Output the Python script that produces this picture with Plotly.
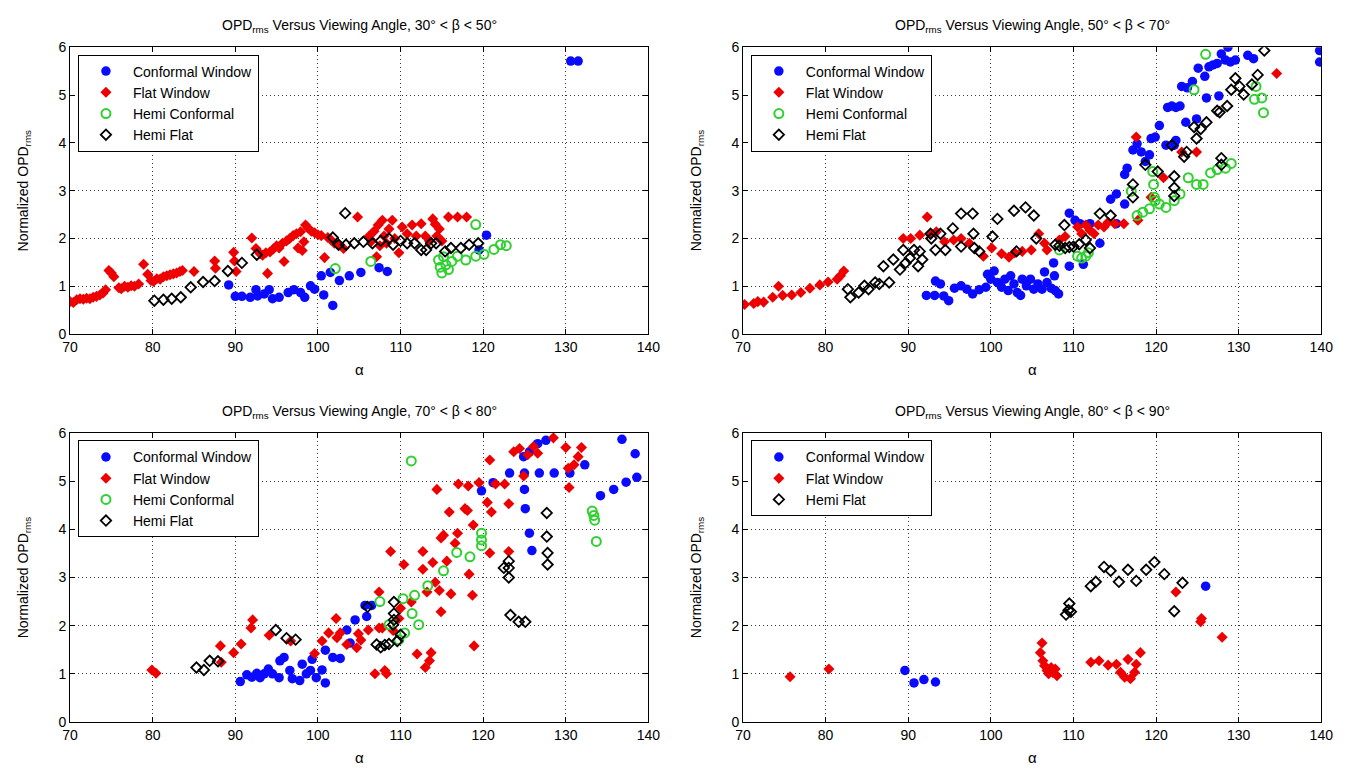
import plotly.graph_objects as go

# ---------------------------------------------------------------------------
# Normalized OPD_rms versus viewing angle alpha, one list of (alpha, OPD) per
# window type and elevation band beta.
# ---------------------------------------------------------------------------

# 30° < beta < 50°
conformal_30_50 = [(89.2, 1.03), (90.0, 0.79), (90.8, 0.79), (91.8, 0.77), (92.5, 0.93), (92.7, 0.80),
                   (93.5, 0.84), (94.1, 0.93), (94.5, 0.74), (95.3, 0.77), (96.4, 0.87), (97.1, 0.93),
                   (97.9, 0.87), (98.4, 0.77), (99.1, 1.01), (99.6, 0.94), (100.4, 1.22), (100.7, 0.82),
                   (101.5, 1.29), (101.8, 0.60), (102.6, 1.12), (103.8, 1.22), (105.2, 1.29), (107.4, 1.39),
                   (108.4, 1.31), (119.5, 1.76), (120.4, 2.07), (130.6, 5.71), (131.5, 5.71)]
flat_30_50 = [(70.0, 0.68), (70.4, 0.66), (70.8, 0.72), (71.2, 0.74), (71.6, 0.73), (72.0, 0.75), (72.4, 0.74),
              (72.8, 0.77), (73.2, 0.79), (73.6, 0.82), (74.0, 0.86), (74.3, 0.93), (74.7, 1.33), (75.0, 1.28),
              (75.3, 1.20), (75.9, 0.97), (76.2, 0.95), (76.6, 1.00), (77.0, 0.98), (77.4, 1.01), (77.8, 1.00),
              (78.3, 1.05), (78.9, 1.46), (79.4, 1.25), (79.8, 1.12), (80.1, 1.10), (80.5, 1.16), (80.9, 1.15),
              (81.3, 1.20), (81.7, 1.22), (82.1, 1.24), (82.5, 1.26), (82.9, 1.28), (83.3, 1.31), (83.6, 1.33),
              (85.0, 1.31), (87.5, 1.53), (87.6, 1.38), (89.8, 1.71), (89.9, 1.53), (90.1, 1.31), (92.0, 2.01),
              (92.5, 1.79), (93.0, 1.68), (93.3, 1.65), (93.7, 1.70), (93.9, 1.27), (94.2, 1.72), (94.6, 1.78),
              (95.0, 1.85), (95.3, 1.80), (95.7, 1.90), (95.9, 1.52), (96.2, 1.95), (96.6, 2.00), (97.0, 2.06),
              (97.4, 2.10), (97.6, 1.80), (97.9, 2.14), (98.1, 1.75), (98.3, 1.93), (98.5, 2.28), (98.8, 2.22),
              (99.2, 2.15), (99.6, 2.12), (100.0, 2.08), (100.4, 2.06), (100.8, 1.60), (101.2, 2.02),
              (101.6, 1.97), (102.0, 1.90), (102.5, 1.86), (103.1, 1.79), (104.8, 2.45), (106.2, 2.05),
              (106.5, 1.95), (106.8, 2.15), (107.1, 1.62), (107.3, 2.28), (107.5, 1.85), (107.8, 2.38),
              (108.0, 2.05), (108.3, 1.90), (108.6, 2.20), (109.0, 2.38), (109.3, 2.00), (109.8, 1.70),
              (110.2, 2.24), (110.8, 2.10), (111.4, 2.28), (111.9, 2.05), (112.5, 2.31), (113.0, 2.05),
              (113.5, 1.95), (113.9, 2.41), (114.2, 2.30), (114.4, 2.05), (114.7, 2.20), (115.0, 1.95),
              (115.8, 2.45), (116.9, 2.45), (118.0, 2.45)]
hemi_conf_30_50 = [(102.1, 1.37), (106.4, 1.52), (114.6, 1.55), (114.8, 1.40), (115.0, 1.28), (115.2, 1.62),
                   (115.5, 1.45), (115.8, 1.35), (116.2, 1.52), (116.9, 1.63), (117.9, 1.55), (119.1, 2.29),
                   (119.1, 1.63), (120.1, 1.67), (121.3, 1.77), (122.1, 1.87), (122.8, 1.85)]
hemi_flat_30_50 = [(80.2, 0.70), (81.3, 0.72), (82.3, 0.74), (83.4, 0.77), (84.6, 0.98), (86.1, 1.09),
                   (87.5, 1.11), (89.1, 1.32), (90.8, 1.49), (92.6, 1.66), (101.8, 2.02), (102.5, 1.87),
                   (103.3, 2.53), (103.4, 1.87), (104.4, 1.90), (105.5, 1.93), (106.6, 1.90), (107.6, 1.95),
                   (108.6, 2.00), (109.1, 1.87), (110.0, 1.95), (110.8, 1.90), (111.7, 1.90), (112.5, 1.76),
                   (113.1, 1.76), (113.7, 1.90), (114.3, 1.90), (115.4, 1.73), (116.1, 1.80), (117.3, 1.80),
                   (118.3, 1.87), (119.4, 1.90)]

# 50° < beta < 70°
conformal_50_70 = [(92.2, 0.81), (93.2, 0.81), (93.3, 1.11), (93.9, 1.05), (94.3, 0.80), (94.9, 0.70),
                   (95.6, 0.96), (96.4, 1.01), (97.1, 0.94), (97.8, 0.84), (98.6, 0.93), (99.4, 0.98),
                   (99.6, 1.25), (100.0, 1.15), (100.4, 1.32), (100.8, 1.08), (101.3, 0.98), (101.7, 1.15),
                   (102.1, 0.91), (102.4, 1.22), (102.8, 1.05), (103.2, 0.87), (103.6, 0.81), (103.8, 1.15),
                   (104.3, 1.01), (104.8, 1.15), (105.2, 0.94), (105.7, 1.05), (106.2, 0.94), (106.5, 1.30),
                   (106.8, 1.08), (107.3, 0.96), (107.6, 1.49), (107.7, 1.22), (107.8, 0.91), (108.2, 0.84),
                   (109.5, 1.42), (109.5, 2.53), (110.2, 2.38), (110.8, 2.31), (111.2, 1.46), (112.0, 2.31),
                   (113.2, 1.90), (114.5, 2.82), (115.2, 2.31), (115.2, 2.93), (116.2, 2.72), (116.2, 3.34),
                   (116.5, 3.47), (117.2, 3.85), (117.7, 3.98), (118.2, 3.81), (118.7, 3.61), (119.2, 3.75),
                   (119.4, 4.09), (119.9, 4.12), (120.4, 4.36), (121.2, 3.95), (121.4, 4.74), (121.9, 4.77),
                   (122.2, 3.95), (122.4, 4.05), (122.4, 4.74), (122.9, 4.77), (123.1, 5.18), (123.6, 4.43),
                   (123.8, 5.15), (124.4, 5.28), (124.9, 4.50), (125.1, 5.56), (125.9, 5.39), (126.1, 4.94),
                   (126.4, 5.59), (126.9, 5.63), (127.4, 5.66), (127.6, 4.98), (127.9, 5.86), (128.4, 5.73),
                   (128.7, 6.00), (129.0, 5.69), (129.6, 5.73), (131.1, 5.83), (131.8, 5.76), (139.8, 5.93),
                   (139.8, 5.69)]
flat_50_70 = [(70.2, 0.62), (71.3, 0.64), (71.8, 0.68), (72.5, 0.67), (73.6, 0.77), (74.3, 1.00), (74.8, 0.81),
              (75.9, 0.82), (77.0, 0.87), (78.1, 0.96), (79.3, 1.03), (80.3, 1.09), (81.4, 1.15), (81.8, 1.22),
              (82.2, 1.32), (89.4, 2.00), (90.3, 2.00), (91.4, 2.07), (92.3, 2.45), (92.7, 2.10), (93.4, 2.14),
              (94.4, 1.93), (95.5, 1.97), (96.4, 2.00), (97.4, 1.90), (99.1, 1.63), (100.1, 1.80),
              (101.3, 1.68), (102.2, 1.61), (102.9, 1.70), (103.8, 1.73), (104.9, 1.76), (105.8, 2.10),
              (106.5, 1.90), (106.8, 1.76), (108.3, 1.97), (109.0, 2.04), (110.5, 2.24), (111.0, 2.10),
              (111.5, 2.28), (112.0, 2.17), (112.5, 2.10), (113.0, 2.28), (113.7, 2.24), (114.2, 2.34),
              (115.0, 2.31), (116.1, 2.31), (117.6, 4.12), (117.8, 2.38), (119.4, 2.86), (120.9, 3.27),
              (123.1, 3.81), (124.9, 3.81), (134.6, 5.45)]
hemi_conf_50_70 = [(108.3, 1.76), (110.5, 1.63), (111.0, 1.59), (111.5, 1.63), (111.8, 1.70), (117.0, 2.99),
                   (117.7, 2.48), (118.4, 2.55), (119.2, 2.62), (119.6, 3.40), (119.7, 3.13), (119.8, 2.86),
                   (119.9, 2.79), (120.4, 2.72), (121.2, 2.65), (122.2, 2.79), (122.9, 2.93), (123.9, 3.27),
                   (124.6, 5.11), (124.9, 3.13), (125.7, 3.13), (126.0, 5.85), (126.6, 3.37), (127.4, 3.44),
                   (128.4, 3.47), (129.1, 3.57), (131.9, 4.91), (132.1, 5.18), (132.8, 4.94), (133.0, 4.63)]
hemi_flat_50_70 = [(82.7, 0.94), (83.0, 0.77), (84.0, 0.87), (84.7, 1.01), (85.2, 0.94), (86.0, 1.08),
                   (86.5, 1.05), (87.0, 1.42), (87.7, 1.08), (88.2, 1.56), (89.0, 1.35), (89.4, 1.76),
                   (89.7, 1.49), (90.2, 1.59), (90.7, 1.76), (91.2, 1.42), (91.4, 1.73), (91.7, 1.56),
                   (92.7, 2.10), (92.8, 2.00), (93.3, 1.76), (93.9, 2.10), (94.5, 1.76), (95.4, 2.21),
                   (96.4, 1.83), (96.4, 2.52), (97.8, 2.52), (97.9, 2.10), (98.0, 1.80), (98.6, 1.73),
                   (100.2, 2.04), (100.8, 2.41), (102.8, 2.58), (103.1, 1.73), (104.2, 2.65), (105.2, 2.48),
                   (105.5, 2.00), (107.8, 1.87), (108.3, 1.85), (108.9, 2.28), (109.0, 1.80), (109.5, 1.82),
                   (110.0, 1.83), (110.7, 1.88), (111.5, 1.97), (112.0, 1.80), (113.2, 2.52), (114.5, 2.48),
                   (117.2, 3.13), (117.2, 2.86), (118.7, 3.54), (120.2, 3.40), (121.9, 3.95), (122.2, 3.30),
                   (122.2, 3.06), (122.2, 2.89), (123.4, 3.71), (123.7, 3.81), (124.6, 4.33), (124.9, 4.09),
                   (125.4, 4.29), (126.1, 4.43), (127.4, 4.67), (127.7, 4.64), (127.9, 3.68), (127.9, 3.54),
                   (128.6, 4.77), (129.1, 5.11), (129.6, 5.35), (130.1, 5.18), (130.6, 5.01), (131.6, 5.22),
                   (132.3, 5.42), (133.1, 5.93)]

# 70° < beta < 80°
conformal_70_80 = [(90.6, 0.84), (91.4, 0.98), (92.0, 0.93), (92.6, 1.01), (93.0, 0.92), (93.5, 1.00),
                   (94.0, 1.10), (94.5, 1.00), (95.3, 0.92), (95.4, 1.27), (95.9, 1.34), (96.6, 1.07),
                   (96.9, 0.90), (97.8, 0.86), (98.1, 1.20), (98.6, 1.00), (99.1, 1.07), (99.3, 1.30),
                   (99.8, 0.92), (100.5, 1.08), (100.9, 0.81), (100.9, 1.49), (101.8, 1.34), (102.7, 1.32),
                   (103.5, 1.91), (103.9, 1.64), (104.5, 2.12), (105.7, 2.42), (105.9, 2.19), (106.5, 2.42),
                   (119.8, 4.80), (121.2, 4.97), (123.2, 5.17), (124.9, 5.51), (125.0, 5.17), (125.0, 4.83),
                   (125.1, 4.43), (125.6, 3.92), (125.6, 5.61), (125.9, 3.56), (126.6, 5.78), (126.8, 5.17),
                   (127.6, 5.85), (128.6, 5.17), (130.5, 5.17), (132.3, 5.34), (134.2, 4.70), (135.8, 4.83),
                   (136.8, 5.87), (137.3, 4.98), (138.4, 5.57), (138.6, 5.08)]
flat_70_80 = [(79.9, 1.08), (80.4, 1.01), (88.2, 1.58), (88.3, 1.24), (89.8, 1.44), (90.7, 1.62), (91.9, 1.95),
              (92.1, 2.12), (94.1, 1.80), (96.7, 1.68), (99.6, 1.42), (100.5, 1.68), (101.3, 1.85),
              (102.2, 2.15), (102.3, 1.75), (102.7, 1.85), (103.5, 1.61), (104.7, 1.54), (104.9, 1.83),
              (105.2, 1.70), (106.1, 1.91), (106.9, 1.00), (107.4, 2.70), (107.4, 1.95), (107.8, 1.95),
              (108.1, 1.07), (108.3, 1.00), (108.8, 3.54), (109.1, 1.90), (109.8, 2.15), (110.0, 2.36),
              (110.4, 3.27), (111.3, 2.49), (112.0, 1.41), (112.7, 3.54), (112.7, 3.17), (113.0, 1.13),
              (113.2, 2.70), (113.5, 1.27), (113.7, 1.44), (113.9, 3.31), (114.2, 2.90), (114.4, 4.83),
              (114.7, 2.73), (114.9, 2.29), (114.9, 3.82), (115.2, 3.88), (115.6, 3.34), (115.9, 4.36),
              (116.1, 2.66), (116.6, 3.71), (116.9, 3.92), (117.0, 4.94), (117.8, 4.43), (118.1, 4.39),
              (118.2, 4.90), (118.3, 3.07), (118.7, 2.63), (118.8, 4.09), (118.9, 1.58), (119.5, 4.97),
              (120.5, 4.56), (120.8, 3.51), (120.8, 5.44), (121.0, 4.36), (121.5, 4.94), (122.6, 4.94),
              (123.1, 4.53), (123.1, 3.54), (123.7, 5.61), (124.4, 5.68), (124.9, 5.11), (125.4, 5.55),
              (126.1, 5.72), (126.6, 5.58), (128.5, 5.90), (130.0, 5.70), (130.3, 5.27), (130.4, 4.87),
              (131.0, 5.34), (131.5, 5.51), (131.9, 5.70)]
hemi_conf_70_80 = [(107.5, 2.50), (108.6, 2.02), (109.8, 1.71), (110.3, 2.56), (110.5, 1.85), (111.3, 5.42),
                   (111.4, 2.25), (111.7, 2.63), (112.2, 2.02), (113.3, 2.83), (115.2, 3.14), (116.8, 3.52),
                   (118.4, 3.43), (119.8, 3.92), (119.8, 3.78), (119.8, 3.66), (133.2, 4.38), (133.4, 4.29),
                   (133.5, 4.19), (133.7, 3.75)]
hemi_flat_70_80 = [(85.3, 1.13), (86.2, 1.08), (86.9, 1.27), (87.9, 1.26), (94.9, 1.91), (96.2, 1.74),
                   (97.3, 1.71), (106.0, 2.39), (107.1, 1.61), (107.6, 1.55), (108.1, 1.60), (108.6, 1.62),
                   (109.1, 2.02), (109.2, 2.49), (109.2, 2.25), (109.2, 2.12), (109.6, 1.68), (110.0, 1.81),
                   (122.5, 3.20), (123.1, 3.34), (123.1, 3.20), (123.1, 3.00), (123.3, 2.22), (124.3, 2.08),
                   (125.1, 2.08), (127.7, 4.34), (127.7, 3.85), (127.8, 3.51), (127.8, 3.27)]

# 80° < beta < 90°
conformal_80_90 = [(89.6, 1.07), (90.7, 0.81), (91.9, 0.88), (93.3, 0.83), (126.0, 2.82)]
flat_80_90 = [(75.7, 0.94), (80.4, 1.10), (106.0, 1.44), (106.2, 1.64), (106.3, 1.27), (106.5, 1.17),
              (106.8, 1.07), (107.0, 1.00), (107.3, 1.13), (107.5, 1.03), (107.8, 1.10), (108.0, 0.96),
              (112.1, 1.24), (113.1, 1.27), (114.2, 1.18), (115.2, 1.20), (115.7, 1.03), (116.2, 0.93),
              (116.6, 1.30), (116.9, 0.90), (117.4, 1.03), (117.6, 1.20), (118.1, 1.44), (122.4, 2.70),
              (125.4, 2.08), (125.5, 2.15), (128.0, 1.76)]
hemi_flat_80_90 = [(109.1, 2.23), (109.4, 2.32), (109.5, 2.46), (109.7, 2.29), (112.1, 2.82), (112.7, 2.91),
                   (113.7, 3.22), (114.5, 3.14), (115.5, 2.91), (116.6, 3.16), (117.6, 2.93), (118.8, 3.16),
                   (119.8, 3.32), (121.0, 3.07), (122.2, 2.30), (123.2, 2.89)]

beta_bands = ["30° &lt; β &lt; 50°", "50° &lt; β &lt; 70°", "70° &lt; β &lt; 80°", "80° &lt; β &lt; 90°"]
x_ticks = [70, 80, 90, 100, 110, 120, 130, 140]
y_ticks = [0, 1, 2, 3, 4, 5, 6]

# series name -> marker style
STYLES = {
    "Conformal Window": dict(symbol="circle", size=9.5, color="#0a0aff", line=dict(width=0)),
    "Flat Window": dict(symbol="diamond", size=8.5, color="#ee0000", line=dict(width=0)),
    "Hemi Conformal": dict(symbol="circle-open", size=9, color="#2fd02f", line=dict(width=2, color="#2fd02f")),
    "Hemi Flat": dict(symbol="diamond-open", size=8, color="#000000", line=dict(width=1.8, color="#000000")),
}

panels = [
    [("Conformal Window", conformal_30_50), ("Flat Window", flat_30_50),
     ("Hemi Conformal", hemi_conf_30_50), ("Hemi Flat", hemi_flat_30_50)],
    [("Conformal Window", conformal_50_70), ("Flat Window", flat_50_70),
     ("Hemi Conformal", hemi_conf_50_70), ("Hemi Flat", hemi_flat_50_70)],
    [("Conformal Window", conformal_70_80), ("Flat Window", flat_70_80),
     ("Hemi Conformal", hemi_conf_70_80), ("Hemi Flat", hemi_flat_70_80)],
    [("Conformal Window", conformal_80_90), ("Flat Window", flat_80_90),
     ("Hemi Flat", hemi_flat_80_90)],
]

W, H = 1353, 776
FONT = "Liberation Sans, Arial, Helvetica, sans-serif"

# pixel boxes of the four axes: (left, right, top, bottom)
boxes = [(63, 650, 40, 333), (746, 1333, 40, 333), (63, 650, 434, 729), (746, 1333, 434, 729)]

fig = go.Figure()
layout = dict(
    width=W, height=H, autosize=False,
    margin=dict(l=0, r=0, t=0, b=0),
    paper_bgcolor="white", plot_bgcolor="white",
    font=dict(family=FONT, size=14, color="black"),
    annotations=[],
)

for i, (series, box) in enumerate(zip(panels, boxes)):
    n = i + 1
    xa = "x" if n == 1 else f"x{n}"
    ya = "y" if n == 1 else f"y{n}"
    leg = "legend" if n == 1 else f"legend{n}"
    for name, pts in series:
        st = STYLES[name]
        fig.add_trace(go.Scatter(
            x=[p[0] for p in pts], y=[p[1] for p in pts],
            mode="markers", name=name, xaxis=xa, yaxis=ya, legend=leg,
            marker=dict(symbol=st["symbol"], size=st["size"], color=st["color"], line=st["line"]),
            hoverinfo="x+y",
        ))

    left, right, top, bottom = box
    axis_common = dict(
        showgrid=True, gridcolor="#3a3a3a", gridwidth=1, griddash="1px,3px",
        showline=True, linecolor="black", linewidth=1, mirror="ticks",
        ticks="inside", ticklen=5, tickcolor="black", tickwidth=1,
        zeroline=False, tickfont=dict(family=FONT, size=14, color="black"),
    )
    layout["xaxis" if n == 1 else f"xaxis{n}"] = dict(
        axis_common, domain=[left / W, right / W], range=[70, 140],
        tickvals=x_ticks, anchor=ya,
    )
    layout["yaxis" if n == 1 else f"yaxis{n}"] = dict(
        axis_common, domain=[1 - bottom / H, 1 - top / H], range=[0, 6],
        tickvals=y_ticks, anchor=xa,
    )
    layout[leg] = dict(
        x=(left + 8) / W, y=1 - (top + 7.5) / H, xanchor="left", yanchor="top",
        xref="paper", yref="paper",
        bgcolor="white", bordercolor="black", borderwidth=1,
        font=dict(family=FONT, size=14, color="black"),
        itemwidth=44, traceorder="normal", tracegroupgap=0,
    )

    cx = (left + right) / 2 / W
    layout["annotations"] += [
        dict(text=f"OPD<sub>rms</sub> Versus Viewing Angle, {beta_bands[i]}",
             x=cx, y=1 - (top - 22) / H, xref="paper", yref="paper",
             xanchor="center", yanchor="middle", showarrow=False,
             font=dict(family=FONT, size=14, color="black")),
        dict(text="α", x=cx, y=1 - (bottom + 36) / H, xref="paper", yref="paper",
             xanchor="center", yanchor="middle", showarrow=False,
             font=dict(family=FONT, size=15, color="black")),
        dict(text="Normalized OPD<sub>rms</sub>", textangle=-90,
             x=(left - 47) / W, y=1 - (top + bottom) / 2 / H, xref="paper", yref="paper",
             xanchor="center", yanchor="middle", showarrow=False,
             font=dict(family=FONT, size=14, color="black")),
    ]

fig.update_layout(**layout)
fig.write_html("out.html")
